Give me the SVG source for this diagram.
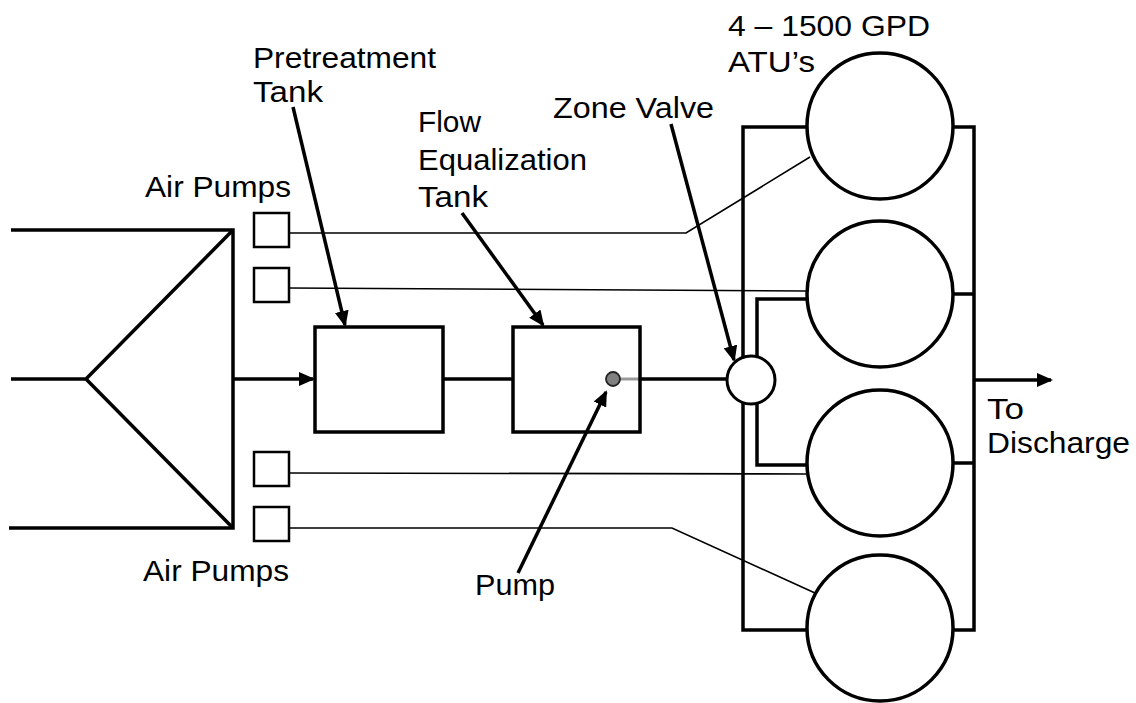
<svg xmlns="http://www.w3.org/2000/svg" width="1136" height="703" viewBox="0 0 1136 703">
<defs>
<style>
.thick{fill:none;stroke:#000;stroke-width:3.5}
.thin{fill:none;stroke:#000;stroke-width:1.6}
.box{fill:#fff;stroke:#000;stroke-width:2.5}
.tank{fill:none;stroke:#000;stroke-width:3.5}
.atu{fill:#fff;stroke:#000;stroke-width:3.5}
.arrow{fill:none;stroke:#000;stroke-width:3.5;marker-end:url(#ah)}
text{font-family:"Liberation Sans",Arial,sans-serif;font-size:29px;fill:#000}
</style>
<marker id="ah" viewBox="0 0 16 14" refX="14" refY="7" markerWidth="16" markerHeight="14" markerUnits="userSpaceOnUse" orient="auto">
<path d="M0,0 L16,7 L0,14 Z" fill="#000"/>
</marker>
</defs>
<rect width="1136" height="703" fill="#fff"/>
<g id="connectors">
<path class="thick" d="M11,230 H233 V528 H9"/>
<path class="thick" d="M11,379 H86 L233,230 M86,379 L233,528"/>
<path class="arrow" d="M233,379 H313"/>
<path class="thick" d="M443,379 H513"/>
<path d="M620,379 H640" fill="none" stroke="#999" stroke-width="3"/>
<path class="thick" d="M640,379 H727"/>
<path class="thick" d="M807,127 H743 V630 H807"/>
<path class="thick" d="M807,299 H757 V465 H807"/>
<path class="thick" d="M953,127 H974 V630 H953 M953,294 H974 M953,463 H974"/>
<path class="arrow" d="M974,380 H1051"/>
<path class="thin" d="M289,233 H686 L810,157"/>
<path class="thin" d="M289,288 L806,291"/>
<path class="thin" d="M289,473 L807,474"/>
<path class="thin" d="M289,528 H672 L815,593"/>
<path class="arrow" d="M293,107 L345,325"/>
<path class="arrow" d="M462,213 L543,325"/>
<path class="arrow" d="M671,124 L734,360"/>
<path class="arrow" d="M518,573 L606,392"/>
</g>
<g id="air-pumps-top">
<rect class="box" x="254" y="213" width="35" height="34"/>
<rect class="box" x="254" y="268" width="35" height="34"/>
<text x="145" y="197" textLength="146" lengthAdjust="spacingAndGlyphs">Air Pumps</text>
</g>
<g id="air-pumps-bottom">
<rect class="box" x="254" y="452" width="35" height="34"/>
<rect class="box" x="254" y="507" width="35" height="34"/>
<text x="143" y="581" textLength="146" lengthAdjust="spacingAndGlyphs">Air Pumps</text>
</g>
<g id="pretreatment-tank">
<rect class="tank" x="315" y="327" width="128" height="105"/>
<text x="253" y="68" textLength="183" lengthAdjust="spacingAndGlyphs">Pretreatment</text>
<text x="253" y="102" textLength="70" lengthAdjust="spacingAndGlyphs">Tank</text>
</g>
<g id="flow-equalization-tank">
<rect class="tank" x="513" y="327" width="127" height="105"/>
<text x="418" y="132" textLength="63" lengthAdjust="spacingAndGlyphs">Flow</text>
<text x="418" y="170" textLength="169" lengthAdjust="spacingAndGlyphs">Equalization</text>
<text x="418" y="207" textLength="70" lengthAdjust="spacingAndGlyphs">Tank</text>
</g>
<g id="pump">
<circle cx="613" cy="379" r="7" fill="#808080" stroke="#222" stroke-width="1.8"/>
<text x="475" y="595" textLength="80" lengthAdjust="spacingAndGlyphs">Pump</text>
</g>
<g id="zone-valve">
<circle cx="751" cy="380" r="24" fill="#fff" stroke="#000" stroke-width="3"/>
<text x="553" y="118" textLength="161" lengthAdjust="spacingAndGlyphs">Zone Valve</text>
</g>
<g id="atus">
<circle class="atu" cx="880" cy="126" r="73"/>
<circle class="atu" cx="880" cy="294" r="73"/>
<circle class="atu" cx="880" cy="463" r="73"/>
<circle class="atu" cx="880" cy="628" r="73"/>
<text x="728" y="36" textLength="202" lengthAdjust="spacingAndGlyphs">4 – 1500 GPD</text>
<text x="728" y="72" textLength="87" lengthAdjust="spacingAndGlyphs">ATU’s</text>
</g>
<g id="discharge">
<text x="987" y="419" textLength="37" lengthAdjust="spacingAndGlyphs">To</text>
<text x="987" y="453" textLength="143" lengthAdjust="spacingAndGlyphs">Discharge</text>
</g>
</svg>
